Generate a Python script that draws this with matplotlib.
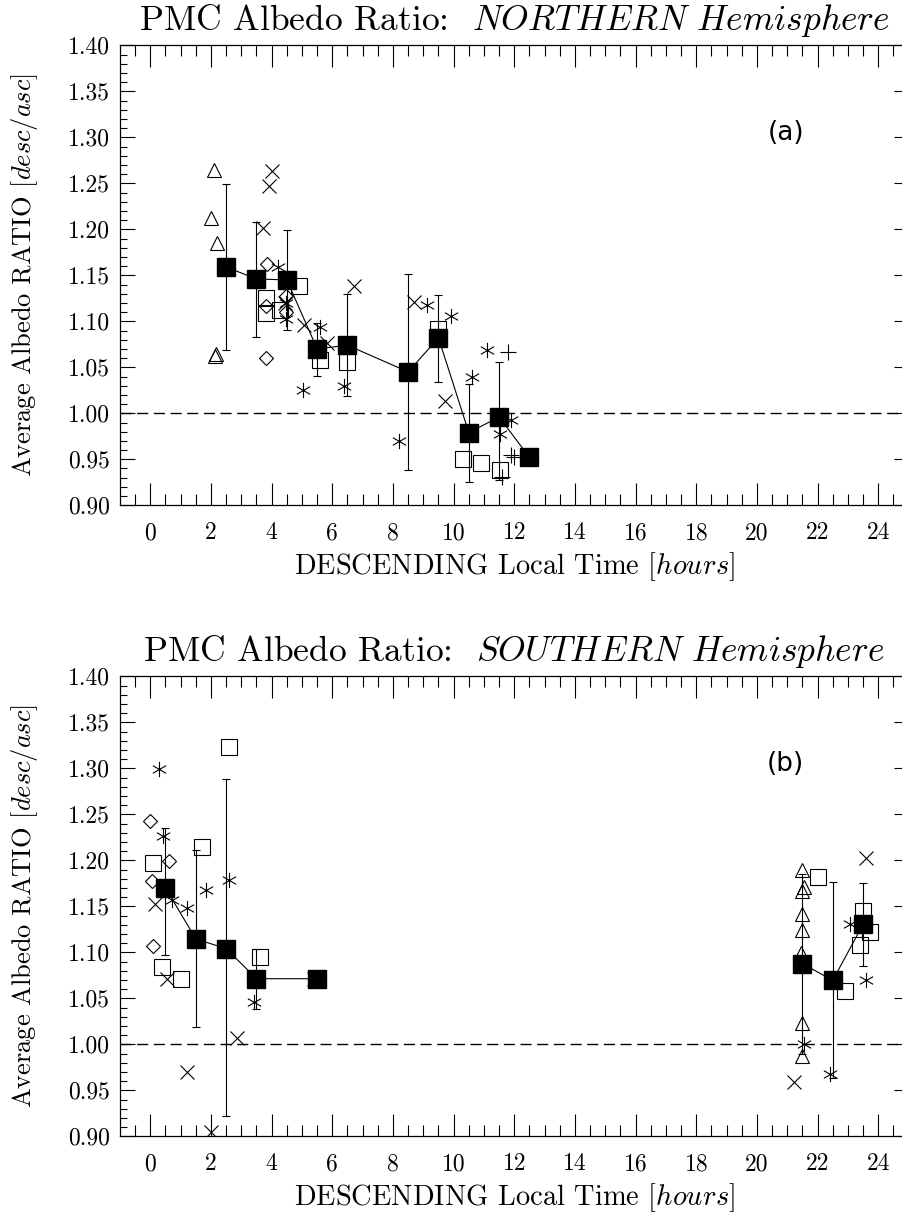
import numpy as np
import matplotlib
matplotlib.use("Agg")
import matplotlib.pyplot as plt
from matplotlib.path import Path

plt.rcParams["font.family"] = ["cmr10", "DejaVu Serif"]
plt.rcParams["mathtext.fontset"] = "cm"
plt.rcParams["axes.formatter.use_mathtext"] = True

# ---------------- (a) Northern hemisphere: individual ratios
n_tri_t = [2.10, 1.99, 2.21, 2.15, 2.12]
n_tri_r = [1.264, 1.212, 1.185, 1.065, 1.062]
n_x_t = [4.02, 3.91, 3.71, 5.07, 5.83, 6.71, 8.69, 9.70, 4.45]
n_x_r = [1.263, 1.247, 1.201, 1.096, 1.076, 1.138, 1.121, 1.013, 1.120]
n_dia_t = [3.86, 3.80, 4.48, 4.48, 3.80]
n_dia_r = [1.162, 1.117, 1.127, 1.110, 1.060]
n_ast_t = [4.22, 4.48, 4.48, 5.03, 5.61, 6.38, 8.20, 9.11, 9.90, 10.60, 11.11, 11.52, 11.88]
n_ast_r = [1.159, 1.120, 1.103, 1.025, 1.094, 1.030, 0.970, 1.118, 1.106, 1.040, 1.069, 0.977, 0.993]
n_sq_t = [3.82, 3.82, 4.27, 4.90, 5.59, 6.49, 9.50, 10.30, 10.89, 11.52]
n_sq_r = [1.125, 1.109, 1.112, 1.138, 1.058, 1.056, 1.092, 0.950, 0.946, 0.938]
n_plus_t = [11.79, 11.60, 11.90, 12.00]
n_plus_r = [1.067, 0.931, 0.955, 0.952]

# (a) hourly means with error bar limits
n_mean_t = [2.5, 3.5, 4.5, 5.5, 6.5, 8.5, 9.5, 10.5, 11.5, 12.5]
n_mean_r = [1.159, 1.146, 1.145, 1.070, 1.074, 1.045, 1.082, 0.979, 0.996, 0.952]
n_mean_lo = [1.069, 1.083, 1.0905, 1.041, 1.019, 0.938, 1.034, 0.925, 0.928, np.nan]
n_mean_hi = [1.249, 1.208, 1.199, 1.098, 1.130, 1.151, 1.129, 1.032, 1.056, np.nan]

# ---------------- (b) Southern hemisphere: individual ratios
s_tri_t = [21.50, 21.55, 21.50, 21.50, 21.50, 21.45, 21.50, 21.50]
s_tri_r = [1.189, 1.171, 1.167, 1.142, 1.124, 1.099, 1.023, 0.987]
s_x_t = [0.17, 0.56, 2.87, 1.20, 1.99, 5.40, 23.58, 21.22]
s_x_r = [1.153, 1.071, 1.007, 0.970, 0.905, 1.071, 1.202, 0.959]
s_dia_t = [-0.01, 0.61, 0.07, 0.10]
s_dia_r = [1.243, 1.199, 1.177, 1.107]
s_ast_t = [0.28, 0.43, 0.72, 1.22, 1.82, 2.59, 3.42, 21.55, 22.40, 23.06, 23.58]
s_ast_r = [1.299, 1.226, 1.157, 1.1485, 1.168, 1.179, 1.046, 1.000, 0.968, 1.131, 1.070]
s_sq_t = [2.59, 1.69, 0.09, 0.39, 1.00, 3.60, 22.02, 22.89, 23.51, 23.73, 23.40]
s_sq_r = [1.3235, 1.215, 1.197, 1.084, 1.071, 1.0946, 1.182, 1.0575, 1.145, 1.1225, 1.108]

# (b) hourly means: morning group and late-evening group
s_am_t = [0.5, 1.5, 2.5, 3.5, 5.5]
s_am_r = [1.170, 1.1145, 1.104, 1.0713, 1.0713]
s_am_lo = [1.097, 1.0185, 0.922, 1.038, np.nan]
s_am_hi = [1.235, 1.211, 1.288, 1.104, np.nan]
s_pm_t = [21.5, 22.5, 23.5]
s_pm_r = [1.0876, 1.0695, 1.1306]
s_pm_lo = [0.990, 0.963, 1.085]
s_pm_hi = [1.185, 1.176, 1.175]

x_ticks = list(range(0, 25, 2))
y_ticks = [0.90, 0.95, 1.00, 1.05, 1.10, 1.15, 1.20, 1.25, 1.30, 1.35, 1.40]

# IDL style asterisk: vertical stroke plus two slanted strokes
ASTER = Path([(0, -1), (0, 1), (-0.87, -0.5), (0.87, 0.5), (-0.87, 0.5), (0.87, -0.5)],
             [Path.MOVETO, Path.LINETO] * 3)

MK = dict(ls="none", mfc="none", mec="k", mew=0.8, zorder=3)


def draw_means(ax, t, r, lo, hi):
    t, r, lo, hi = map(np.asarray, (t, r, lo, hi))
    ax.errorbar(t, r, yerr=[r - lo, hi - r], fmt="none", ecolor="k",
                elinewidth=0.8, capsize=3, capthick=0.8, zorder=4)
    ax.plot(t, r, "-", color="k", lw=0.8, marker="s", ms=12.5,
            mfc="k", mec="k", zorder=5)


def setup(ax, hemi, tag):
    ax.set_xlim(-1, 25)
    ax.set_ylim(0.90, 1.40)
    ax.set_xticks(x_ticks, [str(v) for v in x_ticks])
    ax.set_xticks(np.arange(-0.5, 25, 0.5), minor=True)
    ax.set_yticks(y_ticks, [f"{v:.2f}" for v in y_ticks])
    ax.set_yticks(np.arange(0.90, 1.405, 0.01), minor=True)
    ax.tick_params(axis="both", which="both", direction="in",
                   top=True, right=True, width=0.8, labelsize=17)
    ax.tick_params(axis="x", which="major", length=16, pad=12)
    ax.tick_params(axis="x", which="minor", length=8)
    ax.tick_params(axis="y", which="major", length=11, pad=7)
    ax.tick_params(axis="y", which="minor", length=5)
    for s in ax.spines.values():
        s.set_linewidth(0.9)
    ax.axhline(1.0, color="k", lw=1.0, dashes=(8, 4), zorder=1)
    ax.set_title(r"PMC Albedo Ratio:  $\mathit{" + hemi + r"\ Hemisphere}$",
                 fontsize=25.5, pad=11)
    ax.set_xlabel(r"DESCENDING Local Time $[hours]$", fontsize=20.5)
    ax.set_ylabel(r"Average Albedo RATIO $[desc/asc]$", fontsize=19)
    ax.xaxis.set_label_coords(0.5, -0.098)
    ax.yaxis.set_label_coords(-0.101, 0.5)
    ax.text(20.95, 1.305, tag, fontsize=19, family="DejaVu Sans",
            ha="center", va="center")


fig = plt.figure(figsize=(9.02, 12.13), dpi=100)
ax1 = fig.add_axes([0.13304, 0.58343, 0.8743, 0.37922])
ax2 = fig.add_axes([0.13304, 0.06323, 0.8743, 0.37922])

# panel (a)
ax1.plot(n_tri_t, n_tri_r, marker="^", ms=10.5, **MK)
ax1.plot(n_x_t, n_x_r, marker="x", ms=10, **MK)
ax1.plot(n_dia_t, n_dia_r, marker="D", ms=7, **MK)
ax1.plot(n_ast_t, n_ast_r, marker=ASTER, ms=11, **MK)
ax1.plot(n_sq_t, n_sq_r, marker="s", ms=11, **MK)
ax1.plot(n_plus_t, n_plus_r, marker="+", ms=11, **MK)
draw_means(ax1, n_mean_t, n_mean_r, n_mean_lo, n_mean_hi)
setup(ax1, "NORTHERN", "(a)")

# panel (b)
ax2.plot(s_tri_t, s_tri_r, marker="^", ms=10.5, **MK)
ax2.plot(s_x_t, s_x_r, marker="x", ms=10, **MK)
ax2.plot(s_dia_t, s_dia_r, marker="D", ms=7, **MK)
ax2.plot(s_ast_t, s_ast_r, marker=ASTER, ms=11, **MK)
ax2.plot(s_sq_t, s_sq_r, marker="s", ms=11, **MK)
draw_means(ax2, s_am_t, s_am_r, s_am_lo, s_am_hi)
draw_means(ax2, s_pm_t, s_pm_r, s_pm_lo, s_pm_hi)
setup(ax2, "SOUTHERN", "(b)")

fig.savefig("out.png", dpi=100)
